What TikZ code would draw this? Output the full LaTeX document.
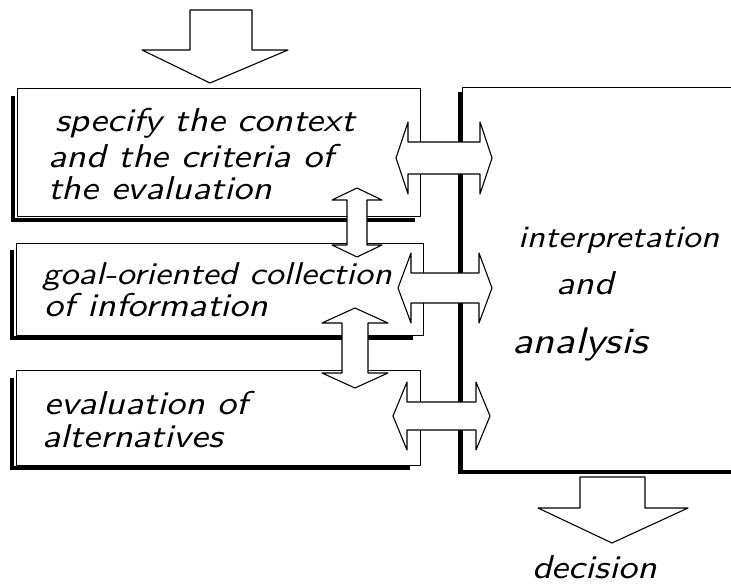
\documentclass[tikz,border=0pt]{standalone}
\usepackage{fontspec}
% slanted sans, widened so the letters stay low and long like handwriting
\newfontfamily\handfont[FakeStretch=1.15]{lmsans10-oblique.otf}
\begin{document}
% block arrow, horizontal, two heads: left x, right x, centre y, half shaft, half head, head length
\newcommand{\blockH}[6]{%
  \draw[blockarrow] (#1,#3) -- ({#1+#6},{#3-#5}) -- ({#1+#6},{#3-#4}) -- ({#2-#6},{#3-#4})
    -- ({#2-#6},{#3-#5}) -- (#2,#3) -- ({#2-#6},{#3+#5}) -- ({#2-#6},{#3+#4})
    -- ({#1+#6},{#3+#4}) -- ({#1+#6},{#3+#5}) -- cycle;}
% block arrow, vertical, two heads: centre x, top y, bottom y, half shaft, half head, head length
\newcommand{\blockV}[6]{%
  \draw[blockarrow] (#1,#2) -- ({#1+#5},{#2+#6}) -- ({#1+#4},{#2+#6}) -- ({#1+#4},{#3-#6})
    -- ({#1+#5},{#3-#6}) -- (#1,#3) -- ({#1-#5},{#3-#6}) -- ({#1-#4},{#3-#6})
    -- ({#1-#4},{#2+#6}) -- ({#1-#5},{#2+#6}) -- cycle;}
\begin{tikzpicture}[x=1pt,y=-1pt,
  thin line/.style={draw=black,line width=1.1pt,line join=round},
  shadow line/.style={draw=black,line width=4pt},
  blockarrow/.style={thin line,fill=white},
  hand/.style={anchor=base west,inner sep=0pt,font=\fontsize{33}{36}\handfont}]
\useasboundingbox (0,0) rectangle (731,585);
\clip (0,0) rectangle (731,585);

% process boxes on the left, each with a heavy shadow on its left and bottom
\node[thin line,minimum width=403pt,minimum height=128pt,anchor=north west] (context) at (17,88) {};
\draw[shadow line] (13,96) -- (13,220) -- (415,220);
\node[thin line,minimum width=407pt,minimum height=92pt,anchor=north west] (collect) at (16,243) {};
\draw[shadow line] (12,250) -- (12,338) -- (413,338);
\node[thin line,minimum width=404pt,minimum height=95pt,anchor=north west] (alt) at (16,370) {};
\draw[shadow line] (12,378) -- (12,468) -- (410,468);

% analysis box on the right
\node[thin line,minimum width=300pt,minimum height=384pt,anchor=north west] (analysis) at (462,87) {};
\draw[shadow line] (460,92) -- (460,472) -- (740,472);

% incoming and outgoing arrows
\draw[blockarrow] (190,10) -- (252,10) -- (252,50) -- (288,50) -- (210,83) -- (142,50) -- (190,50) -- cycle;
\draw[blockarrow] (580,477) -- (645,477) -- (645,508) -- (688,508) -- (612,543) -- (538,508) -- (580,508) -- cycle;

% two-way arrows between the boxes
\blockH{396}{492}{158}{16}{36}{12}
\blockH{398}{492}{288}{15}{35}{13}
\blockH{393}{490}{416}{14}{34}{14}
\blockV{357}{188}{257}{10}{25}{12}
\blockV{355}{308}{388}{13}{33}{15}

% texts
\node[hand] (t1) at (55,132) {specify the context};
\node[hand] (t2) at (48,168) {and the criteria of};
\node[hand] (t3) at (48,200) {the evaluation};
\node[hand,font=\fontsize{31.5}{34}\handfont] (t4) at (42,285) {goal-oriented collection};
\node[hand] (t5) at (44,317) {of information};
\node[hand] (t6) at (44,414) {evaluation of};
\node[hand] (t7) at (42,447) {alternatives};
\node[hand,font=\fontsize{31}{34}\handfont] (t8) at (518,248) {interpretation};
\node[hand] (t9) at (556,295) {and};
\node[hand,font=\fontsize{37}{40}\handfont] (t10) at (512,353) {analysis};
\node[hand] (t11) at (532,578) {decision};
\end{tikzpicture}
\end{document}
